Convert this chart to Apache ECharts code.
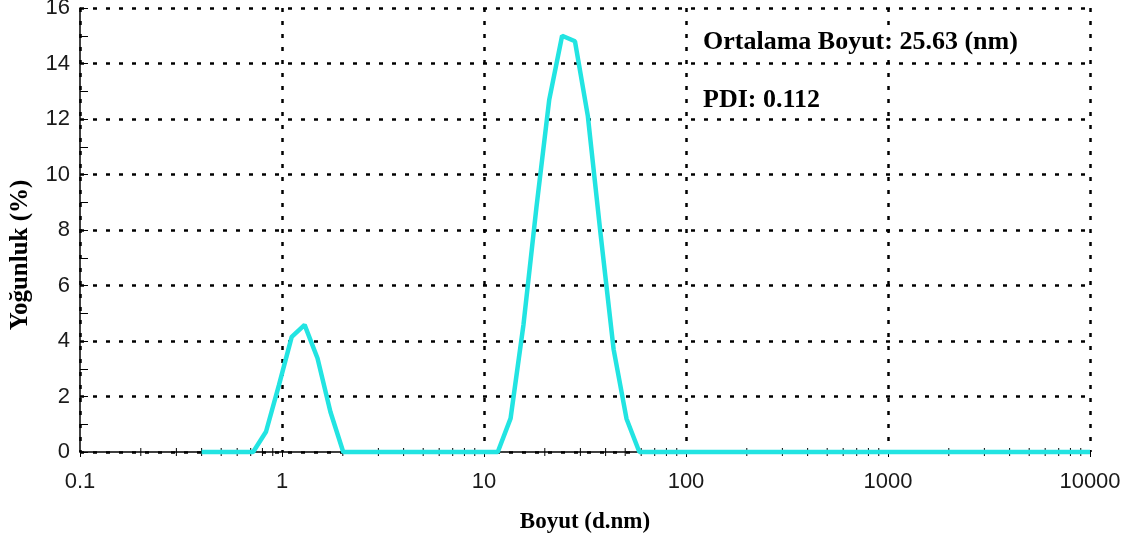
<!DOCTYPE html>
<html>
<head>
<meta charset="utf-8">
<title>Boyut dağılımı</title>
<script src="https://cdn.jsdelivr.net/npm/echarts@6/dist/echarts.min.js"></script>
<style>
  html, body { margin: 0; padding: 0; background: #fff; }
  #main { width: 1131px; height: 540px; }
</style>
</head>
<body>
<div id="main"></div>
<script>
// boyut (d.nm) ve yoğunluk (%) değerleri
const sizes = [0.4, 0.4632, 0.5365, 0.6213, 0.7195, 0.8332, 0.9649, 1.117, 1.294, 1.499,
  1.736, 2.01, 2.328, 2.696, 3.122, 3.615, 4.187, 4.849, 5.615, 6.503,
  7.531, 8.721, 10.1, 11.7, 13.54, 15.69, 18.17, 21.04, 24.36, 28.21,
  32.67, 37.84, 43.82, 50.75, 58.77, 68.06, 78.82, 91.28, 105.7, 122.4,
  141.8, 164.2, 190.1, 220.2, 255, 295.3, 342, 396.1, 458.7, 531.2,
  615.1, 712.4, 825, 955.4, 1106, 1281, 1484, 1718, 1990, 2305,
  2669, 3091, 3580, 4145, 4801, 5560, 6439, 7456, 8635, 10000];
const intensity = [0, 0, 0, 0, 0, 0.73, 2.4, 4.15, 4.58, 3.38,
  1.45, 0, 0, 0, 0, 0, 0, 0, 0, 0,
  0, 0, 0, 0, 1.21, 4.6, 8.8, 12.7, 15.0, 14.8,
  12.1, 7.8, 3.7, 1.2, 0, 0, 0, 0, 0, 0,
  0, 0, 0, 0, 0, 0, 0, 0, 0, 0,
  0, 0, 0, 0, 0, 0, 0, 0, 0, 0,
  0, 0, 0, 0, 0, 0, 0, 0, 0, 0];

const decades = [0.1, 1, 10, 100, 1000];
const minorSteps = [2, 3, 4, 5, 6, 7, 8, 9];
const meanText = 'Ortalama Boyut: 25.63 (nm)';
const pdiText = 'PDI: 0.112';

const lineData = sizes.map((s, i) => [s, intensity[i]]);
// log eksen ara çentikleri (2..9)
const minorTicks = [];
decades.forEach(d => minorSteps.forEach(m => minorTicks.push([+(d * m).toPrecision(3), 0])));

const serif = '"Liberation Serif", "Times New Roman", serif';
const sans = '"Liberation Sans", Arial, sans-serif';
const gridDots = { color: '#000', width: 2.5, type: [4, 9] };

const myChart = echarts.init(document.getElementById('main'));
myChart.setOption({
  animation: false,
  backgroundColor: '#fff',
  title: [{
    text: meanText,
    left: 697,
    top: 25,
    padding: [2, 6],
    backgroundColor: '#fff',
    textStyle: { fontFamily: serif, fontWeight: 'bold', fontSize: 26, lineHeight: 30, color: '#000' },
  }, {
    text: pdiText,
    left: 697,
    top: 83,
    padding: [2, 6],
    textStyle: { fontFamily: serif, fontWeight: 'bold', fontSize: 26, lineHeight: 30, color: '#000' },
  }],
  grid: { left: 80, right: 41, top: 8, bottom: 88, outerBoundsMode: 'none' },
  xAxis: {
    type: 'log',
    logBase: 10,
    min: 0.1,
    max: 10000,
    name: 'Boyut (d.nm)',
    nameLocation: 'middle',
    nameGap: 59,
    nameTextStyle: { fontFamily: serif, fontWeight: 'bold', fontSize: 23, color: '#000' },
    axisLine: { lineStyle: { color: '#000', width: 1.5 } },
    axisTick: { show: true, length: 5, lineStyle: { color: '#000' } },
    axisLabel: {
      fontFamily: sans, fontSize: 22, color: '#1a1a1a', margin: 19,
      formatter: v => String(v),
    },
    splitLine: { show: true, lineStyle: gridDots },
  },
  yAxis: {
    type: 'value',
    min: 0,
    max: 16,
    interval: 2,
    name: 'Yoğunluk (%)',
    nameLocation: 'middle',
    nameGap: 47,
    nameTextStyle: {
      fontFamily: serif, fontWeight: 'bold', fontSize: 25, color: '#000',
      padding: [0, 50, 0, 0],
    },
    axisLine: { show: true, lineStyle: { color: '#000', width: 1.5 } },
    axisTick: { show: true, inside: true, length: 8, lineStyle: { color: '#000' } },
    minorTick: { show: true, splitNumber: 2, length: 8, lineStyle: { color: '#000' } },
    axisLabel: { fontFamily: sans, fontSize: 22, color: '#1a1a1a', margin: 10 },
    splitLine: { show: true, lineStyle: gridDots },
  },
  series: [{
    type: 'custom',
    silent: true,
    z: 1,
    data: minorTicks,
    renderItem: (params, api) => {
      const p = api.coord([api.value(0), api.value(1)]);
      return {
        type: 'line',
        shape: { x1: p[0], y1: p[1] - 4, x2: p[0], y2: p[1] + 4 },
        style: { stroke: '#000', lineWidth: 1 },
      };
    },
  }, {
    type: 'line',
    z: 3,
    data: lineData,
    symbol: 'none',
    clip: false,
    lineStyle: { color: '#22e4e2', width: 4.5 },
  }],
});
</script>
</body>
</html>
